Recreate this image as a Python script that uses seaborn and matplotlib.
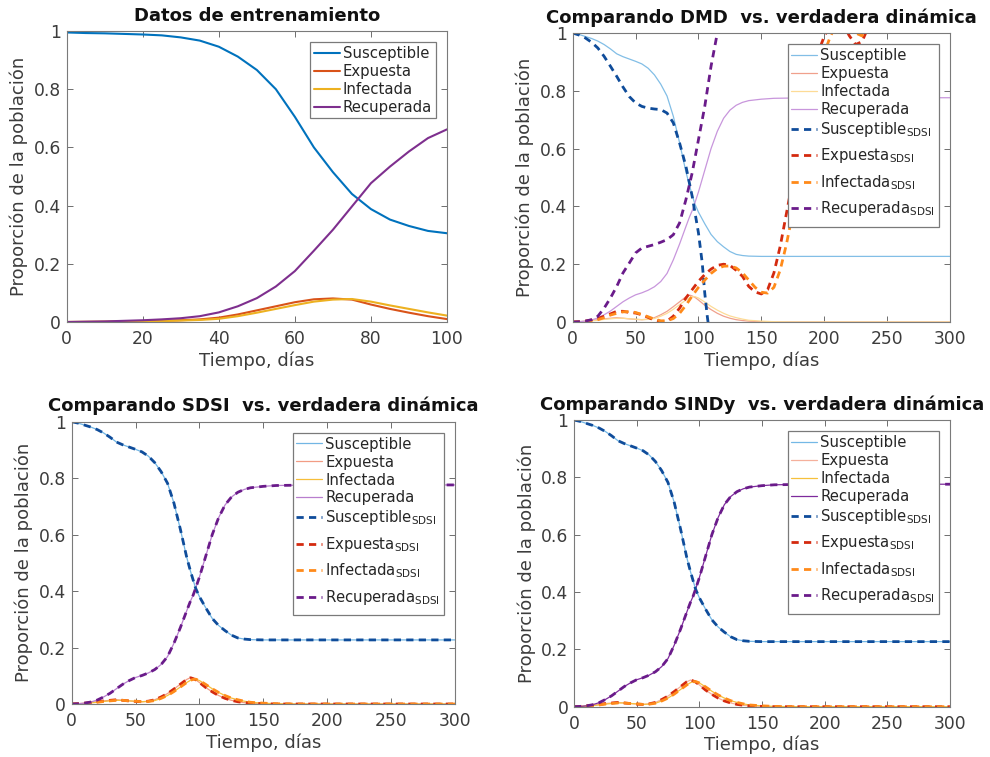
import numpy as np
import matplotlib
matplotlib.use("Agg")
import matplotlib.pyplot as plt
from matplotlib.legend_handler import HandlerLine2D
import seaborn as sns

# ---------------- training data (first 100 days) ----------------
t_train = [0, 5, 10, 15, 20, 25, 30, 35, 40, 45, 50, 55, 60, 65, 70, 75, 80, 85, 90, 95, 100]
S_train = [0.995, 0.993, 0.992, 0.990, 0.988, 0.985, 0.978, 0.967, 0.946, 0.912, 0.866,
           0.800, 0.705, 0.600, 0.515, 0.440, 0.388, 0.352, 0.330, 0.313, 0.305]
E_train = [0.0, 0.0005, 0.001, 0.002, 0.003, 0.004, 0.006, 0.009, 0.015, 0.026, 0.040,
           0.054, 0.068, 0.078, 0.081, 0.077, 0.060, 0.045, 0.032, 0.020, 0.010]
I_train = [0.0, 0.0003, 0.0008, 0.0015, 0.002, 0.003, 0.005, 0.007, 0.011, 0.020, 0.032,
           0.045, 0.058, 0.070, 0.077, 0.079, 0.070, 0.057, 0.045, 0.033, 0.022]
R_train = [0.0, 0.001, 0.002, 0.004, 0.006, 0.009, 0.013, 0.020, 0.033, 0.054, 0.082,
           0.122, 0.175, 0.245, 0.317, 0.397, 0.477, 0.534, 0.586, 0.632, 0.662]

# ---------------- true dynamics (300 days) ----------------
t_true = [0, 5, 10, 15, 20, 25, 30, 35, 40, 45, 50, 55, 60, 65, 70, 75, 80, 85, 90, 93, 95, 97,
          100, 105, 110, 115, 120, 125, 130, 135, 140, 150, 160, 175, 200, 250, 300]
S_true = [1.000, 0.995, 0.988, 0.981, 0.972, 0.960, 0.945, 0.928, 0.918, 0.910, 0.902, 0.893,
          0.878, 0.855, 0.823, 0.782, 0.712, 0.620, 0.520, 0.470, 0.440, 0.410,
          0.380, 0.340, 0.303, 0.278, 0.260, 0.244, 0.234, 0.230, 0.228, 0.227, 0.227, 0.227,
          0.227, 0.227, 0.227]
E_true = [0.0, 0.001, 0.003, 0.005, 0.008, 0.011, 0.013, 0.015, 0.013, 0.011, 0.009, 0.008,
          0.010, 0.015, 0.025, 0.037, 0.053, 0.070, 0.087, 0.093, 0.090, 0.086,
          0.076, 0.058, 0.043, 0.030, 0.020, 0.013, 0.008, 0.005, 0.003, 0.001, 0.0, 0.0,
          0.0, 0.0, 0.0]
I_true = [0.0, 0.0005, 0.002, 0.004, 0.006, 0.009, 0.011, 0.013, 0.013, 0.011, 0.010, 0.008,
          0.009, 0.012, 0.020, 0.030, 0.044, 0.060, 0.076, 0.084, 0.087, 0.088,
          0.083, 0.069, 0.054, 0.041, 0.030, 0.021, 0.015, 0.010, 0.006, 0.003, 0.001, 0.0,
          0.0, 0.0, 0.0]
R_true = [0.0, 0.001, 0.003, 0.007, 0.014, 0.025, 0.038, 0.054, 0.070, 0.083, 0.094, 0.101,
          0.110, 0.122, 0.140, 0.168, 0.215, 0.270, 0.330, 0.365, 0.385, 0.410,
          0.450, 0.525, 0.600, 0.660, 0.705, 0.733, 0.750, 0.760, 0.766, 0.771, 0.774, 0.775,
          0.776, 0.776, 0.776]

# ---------------- DMD reconstruction ----------------
t_dmd_S = [0, 5, 10, 15, 20, 25, 30, 35, 40, 45, 50, 55, 60, 65, 70, 75, 80, 85, 90, 95,
           100, 103, 105, 107, 110]
S_dmd = [1.000, 0.993, 0.983, 0.968, 0.948, 0.919, 0.885, 0.850, 0.813, 0.780, 0.758, 0.746,
         0.740, 0.737, 0.735, 0.723, 0.689, 0.619, 0.539, 0.435, 0.308, 0.204, 0.100, 0.020, -0.080]
t_dmd_R = [0, 5, 10, 15, 20, 25, 30, 35, 40, 45, 50, 55, 60, 65, 70, 75, 80, 85, 90, 95,
           100, 105, 110, 115, 120]
R_dmd = [0.0, 0.001, 0.003, 0.008, 0.020, 0.048, 0.083, 0.123, 0.170, 0.204, 0.239, 0.256,
         0.262, 0.268, 0.276, 0.285, 0.302, 0.343, 0.423, 0.516, 0.631, 0.746, 0.885, 1.000, 1.120]
t_dmd_EI = [0, 5, 10, 15, 20, 25, 30, 35, 40, 45, 50, 55, 60, 65, 70, 75, 80, 85, 90, 95,
            100, 105, 110, 115, 120, 125, 130, 135, 140, 145, 150, 155, 160, 165, 170, 175,
            180, 185, 190, 195, 200, 205, 210, 215, 220, 225, 230, 235, 240]
E_dmd = [0.0, 0.001, 0.003, 0.007, 0.012, 0.020, 0.028, 0.037, 0.037, 0.033, 0.031, 0.025,
         0.016, 0.006, 0.002, 0.003, 0.020, 0.048, 0.083, 0.112, 0.141, 0.164, 0.183, 0.196,
         0.200, 0.196, 0.179, 0.158, 0.123, 0.104, 0.097, 0.112, 0.170, 0.262, 0.377, 0.492,
         0.631, 0.746, 0.850, 0.931, 0.988, 1.030, 1.050, 1.030, 0.990, 0.960, 0.970, 1.020, 1.100]
I_dmd = [0.0, 0.0005, 0.002, 0.005, 0.008, 0.015, 0.024, 0.030, 0.035, 0.036, 0.033, 0.026,
         0.018, 0.010, 0.004, 0.004, 0.012, 0.030, 0.058, 0.090, 0.120, 0.145, 0.168, 0.185,
         0.193, 0.194, 0.187, 0.170, 0.145, 0.120, 0.103, 0.100, 0.120, 0.180, 0.270, 0.380,
         0.500, 0.630, 0.750, 0.850, 0.930, 0.990, 1.030, 1.040, 1.020, 1.000, 0.990, 1.020, 1.080]

# SDSI and SINDy trajectories coincide with the true dynamics at this resolution
S_sdsi, E_sdsi, I_sdsi, R_sdsi = S_true, E_true, I_true, R_true
S_sindy, E_sindy, I_sindy, R_sindy = S_true, E_true, I_true, R_true

names = ["Susceptible", "Expuesta", "Infectada", "Recuperada"]
model_names = [n + r"$_{\mathrm{SDSI}}$" for n in names]
y_ticks = [0, 0.2, 0.4, 0.6, 0.8, 1]
y_tick_labels = ["0", "0.2", "0.4", "0.6", "0.8", "1"]

# colours
c_train = ["#0072BD", "#D95319", "#EDB120", "#7E2F8E"]
c_true_a = ["#82BEE6", "#F0A08C", "#FDDB96", "#C896DC"]
c_true_b = ["#72B6E4", "#F29C84", "#F6BE3A", "#B87ECE"]
c_true_c = ["#74B8E6", "#F5B09C", "#F6C03C", "#7E2A9C"]
c_model = ["#0F4C9A", "#D42A0F", "#FF8A1A", "#6A1B8A"]
dash = (0, (2.6, 1.9))

sns.set_style("ticks")
plt.rcParams.update({
    "font.family": ["DejaVu Sans"],
    "mathtext.fontset": "dejavusans",
    "axes.edgecolor": "#7a7a7a",
    "text.color": "#262626",
})

fig = plt.figure(figsize=(9.9, 7.57), dpi=100)
W, H = 990.0, 757.0


class SubscriptRowHandler(HandlerLine2D):
    """Line handle whose legend row leaves extra room below for the subscript."""

    def legend_artist(self, legend, orig_handle, fontsize, handlebox):
        artist = super().legend_artist(legend, orig_handle, fontsize, handlebox)
        handlebox.ydescent = 6.9
        return artist


def add_axes(x0, x1, ytop, ybot):
    return fig.add_axes([x0 / W, 1 - ybot / H, (x1 - x0) / W, (ybot - ytop) / H])


def style(ax, xmax, xstep, title):
    ax.set_xlim(0, xmax)
    ax.set_ylim(0, 1)
    ax.set_xticks(np.arange(0, xmax + 1, xstep))
    ax.set_yticks(y_ticks, labels=y_tick_labels)
    ax.tick_params(direction="in", top=True, right=True, length=4, width=0.7,
                   colors="#6e6e6e", labelcolor="#3c3c3c", labelsize=12.3)
    ax.tick_params(axis="x", pad=6)
    ax.tick_params(axis="y", pad=4)
    for sp in ax.spines.values():
        sp.set_color("#7a7a7a")
        sp.set_linewidth(0.8)
    ax.set_title(title, fontweight="bold", fontsize=13, color="#111111", pad=7.5)
    ax.set_xlabel("Tiempo, días", fontsize=13, color="#3c3c3c", labelpad=2)
    ax.set_ylabel("Proporción de la población", fontsize=13, color="#3c3c3c", labelpad=4)


def legend(ax):
    handles, labels = ax.get_legend_handles_labels()
    hmap = {h: SubscriptRowHandler() for h, lab in zip(handles, labels) if "SDSI" in lab}
    leg = ax.legend(handles, labels, loc="upper right", fontsize=10.7, frameon=True,
                    fancybox=False, framealpha=1, edgecolor="#7a7a7a", borderpad=0.25,
                    labelspacing=0.2, handlelength=1.75, handletextpad=0.2,
                    borderaxespad=0.75, handler_map=hmap)
    leg.get_frame().set_linewidth(0.9)
    for txt in leg.get_texts():
        txt.set_color("#262626")


# ---- top-left: training data ----
ax1 = add_axes(66.7, 447, 31, 322)
for vals, col, nm in zip([S_train, E_train, I_train, R_train], c_train, names):
    sns.lineplot(x=t_train, y=vals, ax=ax1, color=col, lw=1.5, label=nm)
style(ax1, 100, 20, "Datos de entrenamiento")
legend(ax1)


def comparison(ax, true_cols, model_series, model_times, title, lw_true=0.9):
    for vals, col, nm in zip([S_true, E_true, I_true, R_true], true_cols, names):
        sns.lineplot(x=t_true, y=vals, ax=ax, color=col, lw=lw_true, label=nm)
    for tt, vals, col, nm in zip(model_times, model_series, c_model, model_names):
        sns.lineplot(x=tt, y=vals, ax=ax, color=col, lw=2.0, linestyle=dash, label=nm)
    style(ax, 300, 50, title)
    legend(ax)


# ---- top-right: DMD ----
ax2 = add_axes(572.7, 950, 33, 322)
comparison(ax2, c_true_a, [S_dmd, E_dmd, I_dmd, R_dmd],
           [t_dmd_S, t_dmd_EI, t_dmd_EI, t_dmd_R],
           "Comparando DMD  vs. verdadera dinámica")

# ---- bottom-left: SDSI ----
ax3 = add_axes(71.7, 455, 421.7, 704)
comparison(ax3, c_true_b, [S_sdsi, E_sdsi, I_sdsi, R_sdsi], [t_true] * 4,
           "Comparando SDSI  vs. verdadera dinámica")

# ---- bottom-right: SINDy ----
ax4 = add_axes(574, 950, 420, 706.7)
comparison(ax4, c_true_c, [S_sindy, E_sindy, I_sindy, R_sindy], [t_true] * 4,
           "Comparando SINDy  vs. verdadera dinámica")

fig.savefig("out.png", dpi=100)
